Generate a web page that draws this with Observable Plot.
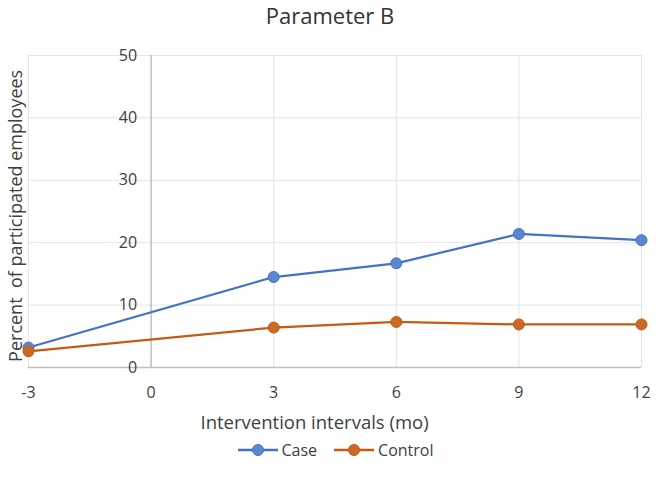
<!DOCTYPE html>
<html>
<head>
<meta charset="utf-8">
<script src="https://cdn.jsdelivr.net/npm/d3@7"></script>
<script src="https://cdn.jsdelivr.net/npm/@observablehq/plot@0.6"></script>
<style>
  body { margin: 0; background: #fff; font-family: "Open Sans", sans-serif; }
  #wrap { width: 656px; height: 492px; position: relative; }
  #title { height: 32px; line-height: 30px; text-align: center; font-size: 22px; color: #333; padding-left: 4px; }
  #legend { position: absolute; top: 439px; left: 0; width: 656px; display: flex; justify-content: center; gap: 16px; font-size: 16px; color: #404040; padding-left: 14px; box-sizing: border-box; }
  .item { display: flex; align-items: center; gap: 3px; }
</style>
</head>
<body>
<div id="wrap">
  <div id="title">Parameter B</div>
  <div id="chart"></div>
  <div id="legend"></div>
</div>
<script>
const months = [-3, 3, 6, 9, 12];
const caseValues = [3.2, 14.5, 16.7, 21.4, 20.4];
const controlValues = [2.6, 6.4, 7.3, 6.9, 6.9];
const seriesNames = ["Case", "Control"];
const seriesColors = ["#4472C4", "#C55A11"];
const markerColors = ["#5B87D1", "#C86A24"];
const xTicks = [-3, 0, 3, 6, 9, 12];
const yTicks = [0, 10, 20, 30, 40, 50];
const xGrid = [-3, 3, 6, 9, 12];
const yGrid = [10, 20, 30, 40, 50];

const data = [];
months.forEach((m, i) => {
  data.push({series: "Case", x: m, y: caseValues[i]});
  data.push({series: "Control", x: m, y: controlValues[i]});
});

const textColor = "#404040";

const chart = Plot.plot({
  width: 656,
  height: 405,
  marginTop: 23,
  marginBottom: 70,
  marginLeft: 28,
  marginRight: 15,
  style: {fontFamily: "Open Sans, sans-serif", background: "white"},
  x: {domain: [-3, 12], axis: null},
  y: {domain: [0, 50], axis: null},
  color: {domain: seriesNames, range: seriesColors},
  marks: [
    Plot.ruleX(xGrid, {x: d => d, y1: 0, y2: 50, stroke: "#e4e4e4", strokeWidth: 1}),
    Plot.ruleY(yGrid, {y: d => d, x1: -3, x2: 12, stroke: "#e4e4e4", strokeWidth: 1}),
    Plot.ruleX([0], {x: d => d, y1: 0, y2: 50, stroke: "#bfbfbf", strokeWidth: 1.5}),
    Plot.ruleY([0], {y: d => d, x1: -3, x2: 12, stroke: "#bfbfbf", strokeWidth: 1.5}),
    Plot.text(yTicks, {x: 0, y: d => d, text: d => String(d), textAnchor: "end", dx: -14, fontSize: 16, fill: textColor}),
    Plot.text(xTicks, {x: d => d, y: 0, text: d => String(d), dy: 25, fontSize: 16, fill: textColor}),
    Plot.line(data, {x: "x", y: "y", z: "series", stroke: "series", strokeWidth: 2.25}),
    Plot.dot(data, {x: "x", y: "y", r: 5.5, fill: d => markerColors[seriesNames.indexOf(d.series)], stroke: "series", strokeWidth: 1}),
    Plot.text(["Intervention intervals (mo)"], {x: 4, y: 0, dy: 56, text: d => d, fontSize: 18.5, fill: textColor}),
    Plot.text(["Percent  of participated employees"], {x: -3, y: 24.3, dx: -12, rotate: -90, text: d => d, fontSize: 18, fill: textColor, lineAnchor: "middle"})
  ]
});
document.getElementById("chart").appendChild(chart);

const legend = document.getElementById("legend");
seriesNames.forEach((name, i) => {
  const item = document.createElement("div");
  item.className = "item";
  item.innerHTML = `<svg width="42" height="14"><line x1="1" y1="7" x2="41" y2="7" stroke="${seriesColors[i]}" stroke-width="2.5"/><circle cx="21" cy="7" r="5.5" fill="${markerColors[i]}" stroke="${seriesColors[i]}"/></svg><span>${name}</span>`;
  legend.appendChild(item);
});
</script>
</body>
</html>
